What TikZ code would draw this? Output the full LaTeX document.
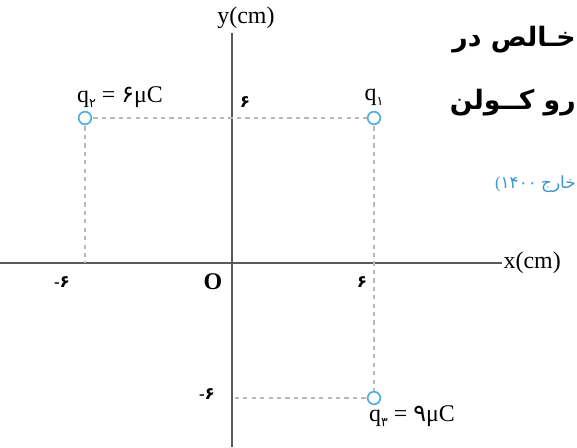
\documentclass[tikz,border=0pt]{standalone}
\usepackage{fontspec}
\setmainfont{Liberation Serif}
\newfontfamily\fa[Script=Arabic]{DejaVu Sans}
\TeXXeTstate=1
\definecolor{axisgray}{RGB}{90,90,90}
\definecolor{dashgray}{RGB}{185,185,185}
\definecolor{chargeblue}{RGB}{80,175,225}
\definecolor{textblue}{RGB}{60,150,210}
\tikzset{
    axisline/.style={line width=1.6pt, axisgray},
    guide/.style={dashgray, dashed, line width=0.8pt},
    charge/.style={circle, draw=chargeblue, line width=1.2pt, fill=white, inner sep=0pt, minimum size=9pt},
    lbl/.style={font=\fontsize{17}{19}\selectfont, inner sep=1pt},
    tick/.style={font=\fontsize{12}{14}\selectfont\bfseries, inner sep=1pt},
    fatext/.style={font=\fa\fontsize{19}{22}\selectfont\bfseries, anchor=east, inner sep=0pt}
}
\newcommand{\fad}[1]{{\fa #1}}
\newcommand{\qsub}[1]{q\raisebox{-0.45ex}{\fa\small #1}}
\begin{document}
\begin{tikzpicture}[x=0.025cm, y=-0.025cm]
\useasboundingbox (0,0) rectangle (577,447);
% axes
\coordinate (xl) at (0,263);
\coordinate (xr) at (502,263);
\coordinate (yb) at (232,447);
\coordinate (yt) at (232,33);
\draw[axisline] (xl) -- (xr);
\draw[axisline] (yb) -- (yt);
\node[lbl, anchor=west] (xlab) at (xr) {x(cm)};
\node[lbl] (ylab) at (246,18) {y(cm)};
\node[lbl, font=\fontsize{17}{19}\selectfont\bfseries] (orig) at (213,282) {O};
% ticks
\node[tick] (tm6x) at (62,282) {-\fad{۶}};
\node[tick] (t6x) at (362,282) {\fad{۶}};
\node[tick] (t6y) at (245,102) {\fad{۶}};
\node[tick] (tm6y) at (207,394) {-\fad{۶}};
% charges
\coordinate (q2) at (85,118);
\coordinate (q1) at (374,118);
\coordinate (q3) at (374,398);
\coordinate (q2x) at (85,263);
\coordinate (q3y) at (232,398);
\draw[guide] (q2) -- (q1);
\draw[guide] (q2) -- (q2x);
\draw[guide] (q1) -- (q3);
\draw[guide] (q3) -- (q3y);
\node[charge] (c1) at (q1) {};
\node[charge] (c2) at (q2) {};
\node[charge] (c3) at (q3) {};
\node[lbl] (l2) at (120,97) {\qsub{۲} = \fad{۶}μC};
\node[lbl] (l1) at (374,97) {\qsub{۱}};
\node[lbl] (l3) at (412,416) {\qsub{۳} = \fad{۹}μC};
% text of the page
\node[fatext] (fa1) at (576,40) {\beginR خـالص در\endR};
\node[fatext] (fa2) at (576,103) {\beginR رو کــولن\endR};
\node[fatext, text=textblue, font=\fontsize{12}{14}\selectfont] (fa3) at (576,184) {(\fad{۱۴۰۰} \fad{خارج}};
\end{tikzpicture}
\end{document}
